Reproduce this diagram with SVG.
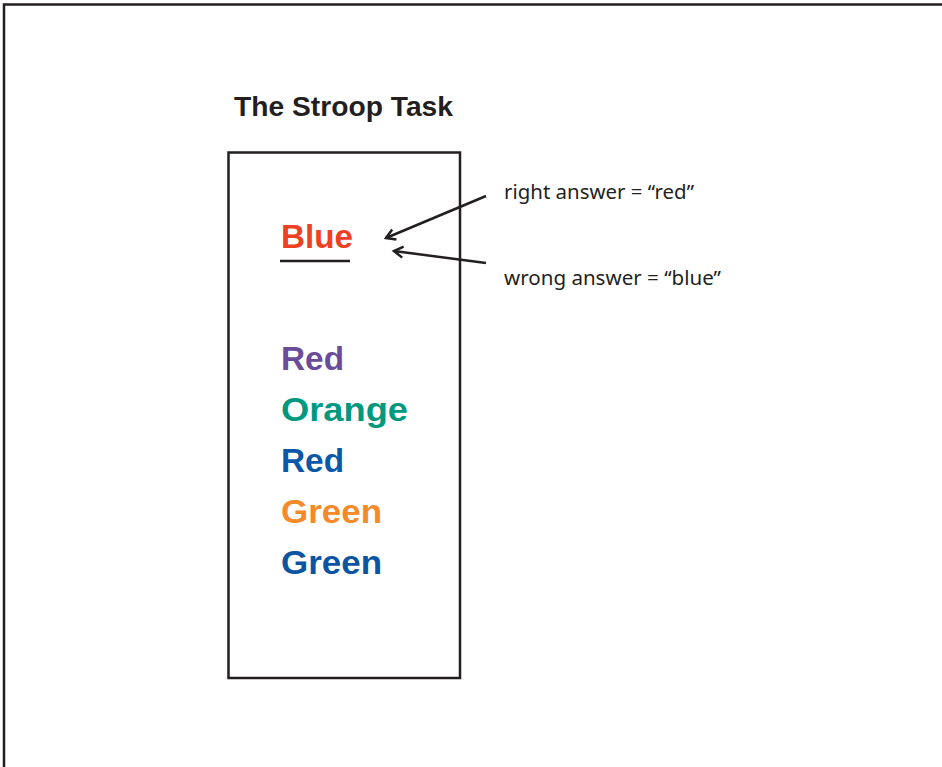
<svg xmlns="http://www.w3.org/2000/svg" width="942" height="767" viewBox="0 0 942 767">
<style>
.frame{fill:none;stroke:#231f20;stroke-width:2.5}
.word{font-family:"Liberation Sans",Arial,sans-serif;font-weight:bold;font-size:33px}
.label{font-family:"Noto Sans","Liberation Sans",sans-serif;font-size:19px;fill:#231f20}
.conn{fill:none;stroke:#231f20;stroke-width:2.5}
</style>
<defs>
<marker id="arr" markerWidth="14" markerHeight="14" refX="11" refY="7" orient="auto" markerUnits="userSpaceOnUse">
<polyline points="2,1.5 11,7 2,12.5" fill="none" stroke="#231f20" stroke-width="2.5"/>
</marker>
</defs>
<rect width="942" height="767" fill="#fff"/>
<path class="frame" d="M4,767 V4.5 H942"/>
<text id="title" x="234" y="116" font-family="Liberation Sans,Arial,sans-serif" font-weight="bold" font-size="27" fill="#231f20" textLength="219" lengthAdjust="spacingAndGlyphs">The Stroop Task</text>
<g id="box"><rect class="frame" x="228.5" y="152.5" width="231.5" height="525.5"/></g>
<g id="blue"><text class="word" x="281" y="248" fill="#ee4023" textLength="72" lengthAdjust="spacingAndGlyphs">Blue</text><line x1="280" y1="261" x2="350" y2="261" stroke="#231f20" stroke-width="2.5"/></g>
<g id="red1"><text class="word" x="281" y="370" fill="#6b4c9b" textLength="63" lengthAdjust="spacingAndGlyphs">Red</text></g>
<g id="orange"><text class="word" x="281" y="421" fill="#00997f" textLength="127" lengthAdjust="spacingAndGlyphs">Orange</text></g>
<g id="red2"><text class="word" x="281" y="472" fill="#0b58a8" textLength="63" lengthAdjust="spacingAndGlyphs">Red</text></g>
<g id="green1"><text class="word" x="281" y="523" fill="#f58a2b" textLength="101" lengthAdjust="spacingAndGlyphs">Green</text></g>
<g id="green2"><text class="word" x="281" y="574" fill="#0b55a2" textLength="101" lengthAdjust="spacingAndGlyphs">Green</text></g>
<g id="right"><text class="label" x="504" y="199" textLength="190" lengthAdjust="spacingAndGlyphs">right answer = “red”</text></g>
<g id="wrong"><text class="label" x="504" y="285" textLength="217" lengthAdjust="spacingAndGlyphs">wrong answer = “blue”</text></g>
<g id="connectors">
<line class="conn" x1="486" y1="196" x2="386" y2="238" marker-end="url(#arr)"/>
<line class="conn" x1="486" y1="263" x2="394" y2="251" marker-end="url(#arr)"/>
</g>
</svg>
